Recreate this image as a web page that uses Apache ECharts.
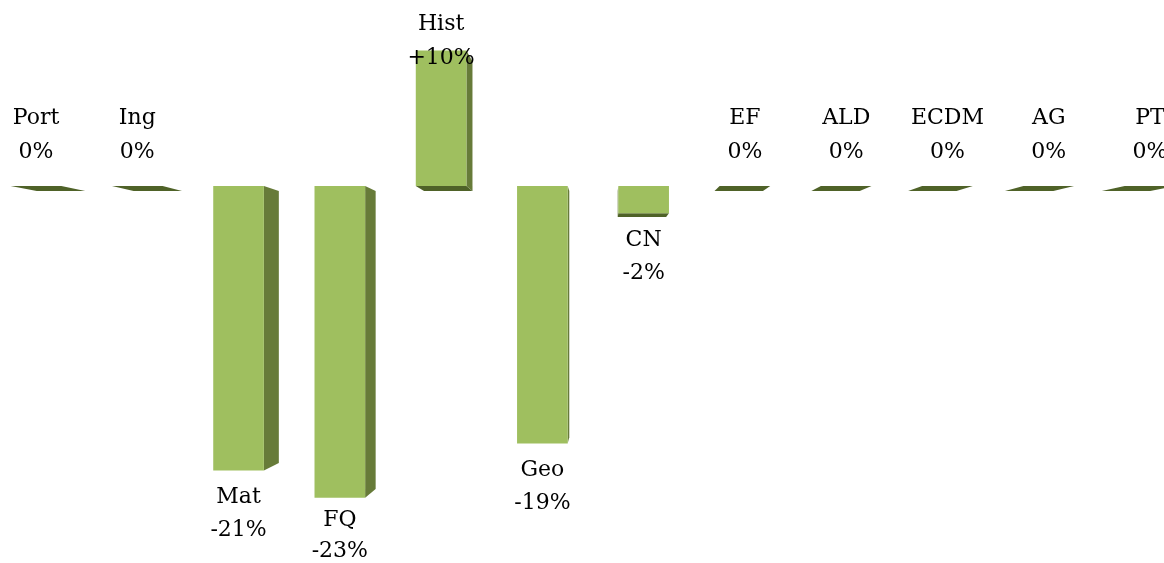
<!DOCTYPE html>
<html>
<head>
<meta charset="utf-8">
<script src="https://cdn.jsdelivr.net/npm/echarts@6/dist/echarts.min.js"></script>
<style>
html,body{margin:0;padding:0;background:#fff;}
#chart{width:1164px;height:563px;}
</style>
</head>
<body>
<div id="chart"></div>
<script>
const categories = ['Port','Ing','Mat','FQ','Hist','Geo','CN','EF','ALD','ECDM','AG','PT'];
const values = [0, 0, -21, -23, 10, -19, -2, 0, 0, 0, 0, 0];
const valueLabels = ['0%','0%','-21%','-23%','+10%','-19%','-2%','0%','0%','0%','0%','0%'];

const FRONT = '#9fbf5f';
const SIDE = '#677b39';
const BOTTOM = '#4f6228';
const TOPC = '#b5d27a';
const FONT = '"DejaVu Serif", serif';
const VP = [604, 300];   // perspective vanishing point (render style)
const DEPTH = 0.956;     // perspective depth factor

const chart = echarts.init(document.getElementById('chart'));

function back(p){ return [VP[0] + (p[0]-VP[0])*DEPTH, VP[1] + (p[1]-VP[1])*DEPTH]; }

function renderItem(params, api){
  const idx = api.value(0);
  const v = api.value(1);
  const c = api.coord([idx, v]);
  const z = api.coord([idx, 0]);
  const bw = api.size([1, 0])[0] * 0.5;
  const x0 = c[0] - bw/2, x1 = c[0] + bw/2;
  const yT = Math.min(c[1], z[1]), yB = Math.max(c[1], z[1]);
  const ftl=[x0,yT], ftr=[x1,yT], fbr=[x1,yB], fbl=[x0,yB];
  const btl=back(ftl), btr=back(ftr), bbr=back(fbr), bbl=back(fbl);
  const ch = [];
  if (btl[1] < yT) ch.push({type:'polygon', shape:{points:[ftl,ftr,btr,btl]}, style:{fill:TOPC}});
  if (bbl[1] > yB) ch.push({type:'polygon', shape:{points:[fbl,fbr,bbr,bbl]}, style:{fill:BOTTOM}});
  if (btr[0] > x1 && yB > yT) ch.push({type:'polygon', shape:{points:[ftr,btr,bbr,fbr]}, style:{fill:SIDE}});
  if (btl[0] < x0 && yB > yT) ch.push({type:'polygon', shape:{points:[ftl,btl,bbl,fbl]}, style:{fill:SIDE}});
  if (yB > yT) ch.push({type:'rect', shape:{x:x0, y:yT, width:x1-x0, height:yB-yT}, style:{fill:FRONT}});

  let nameY, valY;
  if (v < 0) {
    nameY = yB + 27;
    valY = nameY + 33;
    if (valY > 551) { valY = 551; nameY = valY - 31; }
  } else {
    valY = yT + (v > 0 ? 8 : -34);
    nameY = valY - 34;
  }
  const ts = {fontFamily: FONT, fontSize: 22, fill: '#000', align: 'center', verticalAlign: 'middle'};
  ch.push({type:'text', x: c[0], y: nameY, style: Object.assign({text: categories[idx]}, ts)});
  ch.push({type:'text', x: c[0], y: valY, style: Object.assign({text: valueLabels[idx]}, ts)});
  return {type:'group', children: ch};
}

chart.setOption({
  animation: false,
  grid: {left: 0, right: 0, top: 0, bottom: 0},
  xAxis: {type:'value', min: -0.3555, max: 11.138, show: false},
  yAxis: {type:'value', min: -27.82, max: 13.73, show: false},
  series: [{
    type: 'custom',
    renderItem: renderItem,
    data: values.map((v, i) => [i, v]),
    encode: {x: 0, y: 1}
  }]
});
</script>
</body>
</html>
